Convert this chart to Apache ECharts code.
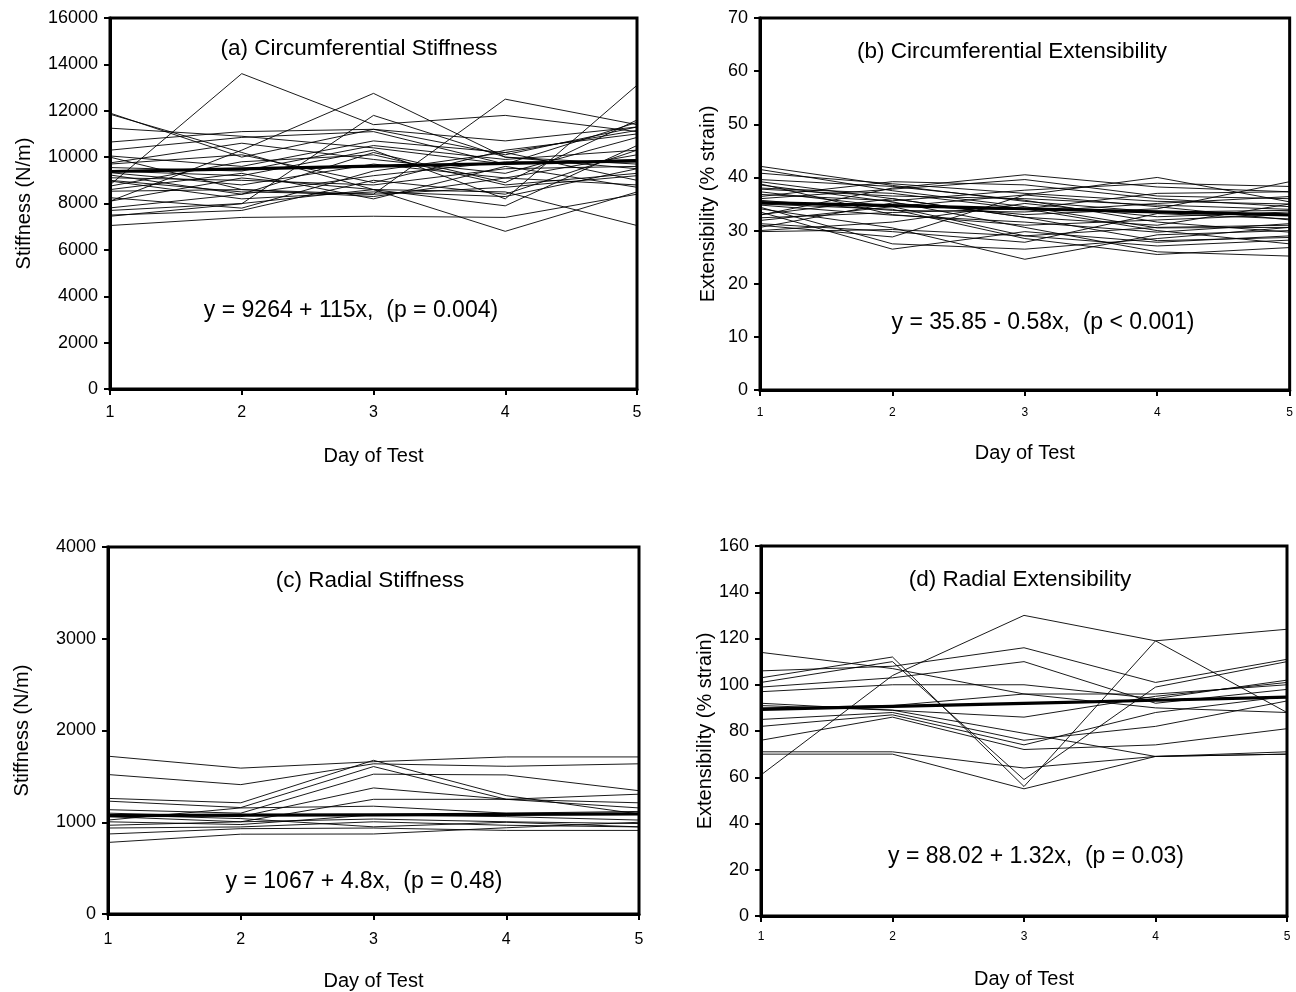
<!DOCTYPE html>
<html>
<head>
<meta charset="utf-8">
<script src="https://cdn.jsdelivr.net/npm/echarts@6/dist/echarts.min.js"></script>
<style>
  html, body { margin: 0; padding: 0; background: #fff; }
  #chart { width: 1296px; height: 992px; }
</style>
</head>
<body>
<div id="chart"></div>
<script>
// Test days shared by all four panels
const days = [1, 2, 3, 4, 5];

// (a) Circumferential stiffness, N/m, one row per specimen
const circStiffness = [
  [8800, 13600, 11400, 11800, 11100],
  [8100, 10300, 12750, 10000, 9500],
  [9000, 8500, 8400, 12500, 11400],
  [9400, 9200, 10300, 8200, 13100],
  [7700, 8000, 8600, 6800, 8500],
  [11850, 10200, 8600, 8500, 7050],
  [11250, 10900, 10400, 9700, 9900],
  [7050, 7400, 7450, 7400, 8400],
  [7500, 7700, 9000, 8400, 10300],
  [10650, 11100, 11200, 10700, 11300],
  [10300, 10850, 11100, 9700, 11500],
  [10050, 9600, 10700, 10200, 11150],
  [9750, 10600, 9900, 9300, 10850],
  [9550, 9400, 10500, 9900, 10300],
  [9330, 8800, 9700, 9100, 10100],
  [9230, 8400, 9200, 9800, 9800],
  [9110, 9000, 8800, 9500, 9600],
  [8970, 8200, 8500, 8300, 9500],
  [8750, 9800, 10100, 8800, 9300],
  [8530, 8600, 8300, 9100, 8800],
  [8250, 7800, 9400, 10200, 9000],
  [8100, 9100, 8600, 7900, 10500],
  [7810, 8400, 10200, 8900, 11600],
  [7450, 7990, 11800, 10000, 9700],
  [10000, 8600, 8400, 8700, 9200],
  [9700, 10100, 8900, 10300, 11000],
  [11900, 10000, 11200, 10100, 11300],
  [8600, 9300, 8200, 9600, 8700]
];

// (b) Circumferential extensibility, % strain
const circExtensibility = [
  [42.1, 38.5, 35.5, 33.5, 33.8],
  [41.5, 37.5, 34.5, 30.5, 30.6],
  [39.6, 38.3, 35.7, 31.6, 29.7],
  [39.2, 36.0, 32.5, 28.1, 28.7],
  [38.6, 35.4, 30.6, 26.0, 25.2],
  [38.0, 37.0, 34.1, 30.0, 27.5],
  [37.3, 34.5, 29.0, 27.1, 28.2],
  [36.4, 39.2, 38.6, 36.0, 34.5],
  [35.7, 33.8, 33.5, 35.1, 36.4],
  [34.8, 32.9, 31.6, 29.7, 31.3],
  [34.1, 30.5, 24.6, 29.2, 30.0],
  [33.5, 26.5, 29.8, 27.8, 29.0],
  [32.9, 38.0, 40.5, 38.2, 37.3],
  [31.9, 34.5, 36.7, 40.0, 35.4],
  [31.3, 29.8, 27.8, 33.2, 32.2],
  [30.6, 35.2, 33.0, 34.1, 39.2],
  [30.0, 31.6, 35.1, 32.6, 33.5],
  [36.8, 35.6, 37.6, 38.9, 38.3],
  [33.0, 36.0, 32.5, 31.0, 35.0],
  [35.0, 34.0, 28.5, 25.5, 26.8],
  [37.8, 36.5, 36.0, 34.8, 34.0],
  [32.4, 33.4, 34.1, 37.0, 37.3],
  [34.4, 27.5, 26.5, 28.5, 30.6],
  [38.8, 33.0, 31.0, 32.0, 33.0],
  [31.0, 28.8, 36.7, 34.5, 32.0],
  [36.0, 37.8, 39.6, 36.5, 36.0],
  [29.8, 30.2, 29.0, 30.6, 31.0],
  [40.8, 38.8, 37.0, 35.5, 35.0]
];

// (c) Radial stiffness, N/m
const radStiffness = [
  [1720, 1590, 1660, 1712, 1712],
  [1520, 1410, 1637, 1610, 1637],
  [1260, 1212, 1675, 1290, 1090],
  [1230, 1160, 1607, 1250, 1156],
  [1137, 1099, 1524, 1516, 1344],
  [1099, 1061, 1374, 1250, 1306],
  [1061, 1005, 1250, 1250, 1212],
  [1024, 1156, 1175, 1099, 1118],
  [1005, 975, 1080, 1061, 1024],
  [967, 1005, 1035, 1005, 986],
  [937, 949, 1005, 967, 949],
  [872, 930, 937, 911, 911],
  [780, 870, 872, 940, 1000],
  [1080, 1040, 950, 1000, 950]
];

// (d) Radial extensibility, % strain
const radExtensibility = [
  [61, 104, 130, 119, 124],
  [103, 112, 56, 119, 88],
  [101, 110, 59, 99, 110],
  [114, 107, 96, 90, 88],
  [106, 108, 116, 101, 111],
  [99, 103, 110, 92, 98],
  [97, 100, 100, 94, 102],
  [92, 89, 86, 95, 101],
  [90, 91, 96, 96, 100],
  [91, 89, 79, 69, 70],
  [85, 88, 76, 82, 93],
  [82, 87, 74, 88, 95],
  [76, 86, 72, 74, 81],
  [71, 71, 64, 69, 71],
  [70, 70, 55, 69, 70]
];

// Regression coefficients [intercept, slope] per panel
const fitCircStiffness = [9264, 115];
const fitCircExtensibility = [35.85, -0.58];
const fitRadStiffness = [1067, 4.8];
const fitRadExtensibility = [88.02, 1.32];

// Panel captions and fit equations
const panelTitles = [
  '(a) Circumferential Stiffness',
  '(b) Circumferential Extensibility',
  '(c) Radial Stiffness',
  '(d) Radial Extensibility'
];
const fitLabels = [
  'y = 9264 + 115x,  (p = 0.004)',
  'y = 35.85 - 0.58x,  (p < 0.001)',
  'y = 1067 + 4.8x,  (p = 0.48)',
  'y = 88.02 + 1.32x,  (p = 0.03)'
];
const yAxisNames = ['Stiffness (N/m)', 'Extensibility (% strain)', 'Stiffness (N/m)', 'Extensibility (% strain)'];
const xAxisName = 'Day of Test';

// Axis ranges [min, max, interval]
const yRanges = [
  [0, 16000, 2000],
  [0, 70, 10],
  [0, 4000, 1000],
  [0, 160, 20]
];

const FONT = '"Liberation Sans", Arial, Helvetica, sans-serif';

const grids = [
  { left: 110, top: 18, width: 527, height: 371 },
  { left: 760, top: 18, width: 531, height: 372 },
  { left: 108, top: 547, width: 531, height: 369 },
  { left: 761, top: 546, width: 526, height: 370 }
];

const xLabelSize = [16, 12, 16, 12];
const xLabelMargin = [16, 17, 18, 15];
const xNameGap = [57, 53, 57, 53];
const yNameGap = [76, 42, 76, 42];

const panelData = [circStiffness, circExtensibility, radStiffness, radExtensibility];
const fits = [fitCircStiffness, fitCircExtensibility, fitRadStiffness, fitRadExtensibility];

const xAxes = grids.map((g, i) => ({
  type: 'value', gridIndex: i, min: 1, max: 5, interval: 1,
  name: xAxisName, nameLocation: 'middle', nameGap: xNameGap[i],
  nameTextStyle: { fontFamily: FONT, fontSize: 20, color: '#000' },
  axisLine: { lineStyle: { color: '#000', width: 3 } },
  axisTick: { show: true, inside: false, length: 6, lineStyle: { color: '#000', width: 2 } },
  axisLabel: { fontFamily: FONT, fontSize: xLabelSize[i], color: '#000', margin: xLabelMargin[i] },
  splitLine: { show: false }
}));

const yAxes = grids.map((g, i) => ({
  type: 'value', gridIndex: i, min: yRanges[i][0], max: yRanges[i][1], interval: yRanges[i][2],
  name: yAxisNames[i], nameLocation: 'middle', nameGap: yNameGap[i], nameRotate: 90,
  nameTextStyle: { fontFamily: FONT, fontSize: 20, color: '#000' },
  axisLine: { lineStyle: { color: '#000', width: 3 } },
  axisTick: { show: true, inside: false, length: 6, lineStyle: { color: '#000', width: 2 } },
  axisLabel: { fontFamily: FONT, fontSize: 18, color: '#000', margin: 12, formatter: v => String(v) },
  splitLine: { show: false }
}));

const series = [];
panelData.forEach((rows, p) => {
  rows.forEach(row => {
    series.push({
      type: 'line', xAxisIndex: p, yAxisIndex: p,
      data: days.map((d, k) => [d, row[k]]),
      symbol: 'none', silent: true,
      lineStyle: { color: '#000', width: 0.9 }
    });
  });
  const fit = fits[p];
  series.push({
    type: 'line', xAxisIndex: p, yAxisIndex: p,
    data: days.map(d => [d, fit[0] + fit[1] * d]),
    symbol: 'none', silent: true, z: 5,
    lineStyle: { color: '#000', width: 3.2 }
  });
});

// Caption and equation positions inside each plot box
const titlePos = [[359, 49], [1012, 52], [370, 581], [1020, 580]];
const eqPos = [[351, 311], [1043, 323], [364, 882], [1036, 857]];

const graphics = [];
panelTitles.forEach((t, i) => {
  graphics.push({
    type: 'text', x: titlePos[i][0], y: titlePos[i][1], z: 10,
    style: { text: t, fill: '#000', font: '22.5px ' + FONT, textAlign: 'center', textVerticalAlign: 'middle' }
  });
  graphics.push({
    type: 'text', x: eqPos[i][0], y: eqPos[i][1], z: 10,
    style: { text: fitLabels[i], fill: '#000', font: '23px ' + FONT, textAlign: 'center', textVerticalAlign: 'middle' }
  });
});

const chart = echarts.init(document.getElementById('chart'), null, { renderer: 'canvas' });
chart.setOption({
  animation: false,
  backgroundColor: '#fff',
  grid: grids.map(g => Object.assign({ show: true, borderColor: '#000', borderWidth: 3, backgroundColor: 'transparent' }, g)),
  xAxis: xAxes,
  yAxis: yAxes,
  series: series,
  graphic: graphics
});
</script>
</body>
</html>
